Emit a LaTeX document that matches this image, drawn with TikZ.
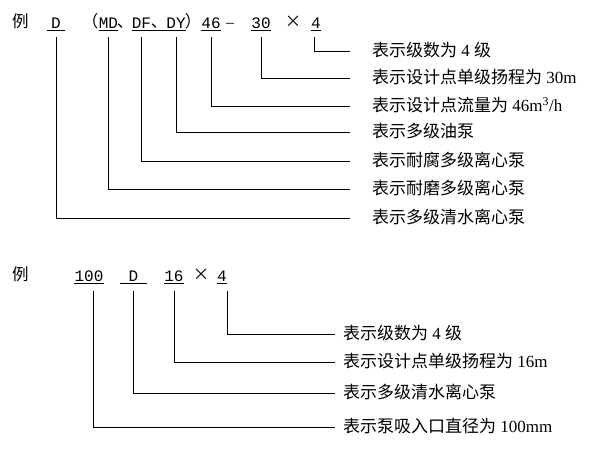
\documentclass[tikz,border=0pt]{standalone}
\usepackage{fontspec}
\setmainfont{Liberation Serif}
\newfontfamily\cjk{Noto Sans CJK SC}
\newfontfamily\codefont{Liberation Mono}
\newcommand{\zh}[1]{{\cjk #1}}
\tikzset{
  code/.style={font=\codefont\fontsize{16}{18}\selectfont, inner xsep=0pt, inner ysep=2.5pt, text height=10pt, text depth=0pt, anchor=base},
  sign/.style={font=\cjk\fontsize{16.5}{18}\selectfont, inner sep=0pt, anchor=base},
  note/.style={font=\fontsize{17}{20}\selectfont, inner xsep=0pt, inner ysep=0pt, text height=13pt, text depth=1.5pt, anchor=west},
  uline/.style={draw, line width=0.8pt},
  lead/.style={draw, line width=0.9pt},
}
\begin{document}
\begin{tikzpicture}[x=1pt,y=-1pt]
\useasboundingbox (0,0) rectangle (600,458);
% first example
\path node[sign] (li1) at (20.5,27) {例};
\path node[code,minimum width=17pt] (cD) at (56,28) {D};
\path node[sign] (lp) at (90,27) {（};
\path node[code] (cMD) at (108.5,28) {MD};
\path node[sign] (d1) at (125,27) {、};
\path node[code] (cDF) at (141.5,28) {DF};
\path node[sign] (d2) at (159,27) {、};
\path node[code] (cDY) at (176,28) {DY};
\path node[sign] (rp) at (193,27) {）};
\path node[code] (c46) at (211,28) {46};
\path node[sign,font=\fontsize{16}{18}\selectfont] (mi) at (230,27) {–};
\path node[code] (c30) at (261,28) {30};
\path node[sign] (x1) at (293,27) {×};
\path node[code] (c4) at (316,28) {4};
\foreach \n in {cD,cMD,c46,c30,c4} \path[uline] (\n.south west) -- (\n.south east);
\path[uline] (cDF.south west) -- (cDY.south east);

\path node[note] (n4) at (372,51) {\zh{表示级数为} 4 \zh{级}};
\path node[note] (n30) at (372,78) {\zh{表示设计点单级扬程为} 30m};
\path node[note] (n46) at (372,106) {\zh{表示设计点流量为} 46m\textsuperscript{3}/h};
\path node[note] (nDY) at (372,132) {\zh{表示多级油泵}};
\path node[note] (nDF) at (372,161) {\zh{表示耐腐多级离心泵}};
\path node[note] (nMD) at (372,189) {\zh{表示耐磨多级离心泵}};
\path node[note] (nD) at (372,218) {\zh{表示多级清水离心泵}};

\path[lead,shorten >=22pt] ([xshift=-2pt,yshift=-6.5pt]c4.south) |- (n4.west);
\foreach \a/\b in {c30/n30,c46/n46,cDY/nDY,cDF/nDF,cMD/nMD,cD/nD}
  \path[lead,shorten >=22pt] ([yshift=-6.5pt]\a.south) |- (\b.west);

% second example
\path node[sign] (li2) at (20.5,280) {例};
\path node[code] (c100) at (89,281) {100};
\path node[code,minimum width=27pt] (cD2) at (133.5,281) {D};
\path node[code] (c16) at (174,281) {16};
\path node[sign] (x2) at (201,280) {×};
\path node[code,minimum width=10pt] (c42) at (222,281) {4};
\foreach \n in {c100,cD2,c16,c42} \path[uline] (\n.south west) -- (\n.south east);

\path node[note] (m4) at (343,334) {\zh{表示级数为} 4 \zh{级}};
\path node[note] (m16) at (343,362) {\zh{表示设计点单级扬程为} 16m};
\path node[note] (mD) at (343,393) {\zh{表示多级清水离心泵}};
\path node[note] (m100) at (343,427) {\zh{表示泵吸入口直径为} 100mm};

\path[lead,shorten >=8pt] ([xshift=5pt,yshift=-7pt]c42.south) |- (m4.west);
\path[lead,shorten >=8pt] ([yshift=-7pt]c16.south) |- (m16.west);
\path[lead,shorten >=8pt] ([yshift=-7pt]cD2.south) |- (mD.west);
\path[lead,shorten >=8pt] ([xshift=4pt,yshift=-7pt]c100.south) |- (m100.west);
\end{tikzpicture}
\end{document}
